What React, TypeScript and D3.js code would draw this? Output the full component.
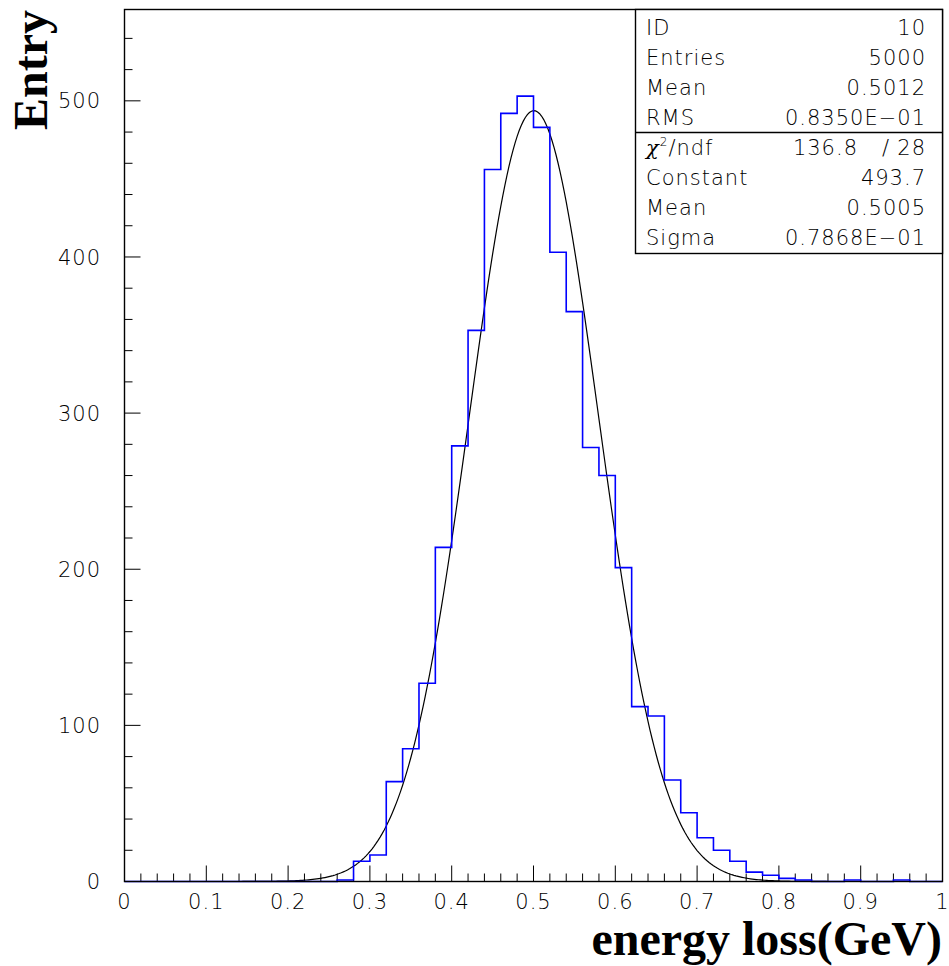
import React from 'react'
import * as d3 from 'd3'

// histogram: 50 bins of 0.02 GeV from 0 to 1
const binWidth = 0.02
const counts = [
  0, 0, 0, 0, 0, 0, 0, 0, 0, 0, 0, 0, 0,
  1, 13, 17, 64, 85, 127, 214, 279, 353, 456, 492, 503, 483, 403, 365, 278, 260,
  201, 112, 106, 65, 44, 28, 20, 13, 6, 4, 2, 1, 0, 0, 1, 0, 0, 1, 0, 0,
]

// gaussian fit result
const fitConstant = 493.7
const fitMean = 0.5005
const fitSigma = 0.07868

const xTickLabels = ['0', '0.1', '0.2', '0.3', '0.4', '0.5', '0.6', '0.7', '0.8', '0.9', '1']
const yTickLabels = [0, 100, 200, 300, 400, 500]

const statsRows = [
  ['ID', '10'],
  ['Entries', '5000'],
  ['Mean', '0.5012'],
  ['RMS', '0.8350E\u221201'],
]
const fitRows = [
  ['Constant', '493.7'],
  ['Mean', '0.5005'],
  ['Sigma', '0.7868E\u221201'],
]
const chi2 = '136.8'
const ndf = '28'

const W = 949
const H = 966
const frame = { left: 124.5, right: 942.5, top: 9.5, bottom: 881.5 }
const thin = '"DejaVu Sans", sans-serif'

export default function App() {
  const x = d3.scaleLinear().domain([0, 1]).range([frame.left, frame.right])
  const y = d3.scaleLinear().domain([0, 558.5]).range([frame.bottom, frame.top])

  const pts = counts.map((c, i) => [i * binWidth, c] as [number, number])
  pts.push([1, counts[counts.length - 1]])
  const histPath = d3.line<[number, number]>()
    .x((d) => x(d[0]))
    .y((d) => y(d[1]))
    .curve(d3.curveStepAfter)(pts)

  const gx = d3.range(0, 1.0001, 0.0025)
  const fitPath = d3.line<number>()
    .x((d) => x(d))
    .y((d) => y(fitConstant * Math.exp(-0.5 * ((d - fitMean) / fitSigma) ** 2)))(gx)

  const xMinor = d3.range(0, 51).map((i) => i * 0.02)
  const yMinor = d3.range(0, 28).map((i) => i * 20)

  const box = { left: 635.5, right: frame.right, top: frame.top, mid: 132.5, bottom: 253.5 }
  const rowPitch = 30.3
  const textSize = 21

  return (
    <svg width={W} height={H} style={{ position: 'absolute', left: 0, top: 0, background: '#fff' }}>
      {/* ticks */}
      <g stroke="#000" strokeWidth={1}>
        {xMinor.map((v, i) => (
          <line key={'xt' + i} x1={x(v)} x2={x(v)} y1={frame.bottom}
                y2={frame.bottom - (i % 5 === 0 ? 16 : 8)} />
        ))}
        {yMinor.map((v, i) => (
          <line key={'yt' + i} y1={y(v)} y2={y(v)} x1={frame.left}
                x2={frame.left + (i % 5 === 0 ? 16 : 8)} />
        ))}
      </g>
      {/* tick labels */}
      <g fontFamily={thin} fontWeight={200} fontSize={21} letterSpacing={1} fill="#000">
        {xTickLabels.map((t, i) => (
          <text key={'xl' + i} x={x(i / 10)} y={909} textAnchor="middle">{t}</text>
        ))}
        {yTickLabels.map((t) => (
          <text key={'yl' + t} x={101} y={y(t)} dy="0.36em" textAnchor="end">{t}</text>
        ))}
      </g>

      <path d={fitPath || ''} fill="none" stroke="#000" strokeWidth={1.2} />
      <path d={histPath || ''} fill="none" stroke="#0000ff" strokeWidth={1.6} />

      {/* frame */}
      <rect x={frame.left} y={frame.top} width={frame.right - frame.left}
            height={frame.bottom - frame.top} fill="none" stroke="#000" strokeWidth={1.4} />

      {/* stats box */}
      <rect x={box.left} y={box.top} width={box.right - box.left} height={box.bottom - box.top}
            fill="#fff" stroke="#000" strokeWidth={1.4} />
      <line x1={box.left} x2={box.right} y1={box.mid} y2={box.mid} stroke="#000" strokeWidth={1.4} />
      <g fontFamily={thin} fontWeight={200} fontSize={textSize} letterSpacing={1} fill="#000">
        {statsRows.map((r, i) => (
          <g key={'s' + i}>
            <text x={646} y={box.top + 25 + i * rowPitch}>{r[0]}</text>
            <text x={926} y={box.top + 25 + i * rowPitch} textAnchor="end">{r[1]}</text>
          </g>
        ))}
        <text x={646} y={box.mid + 22}>
          <tspan fontFamily='"DejaVu Serif", serif' fontStyle="italic">χ</tspan>
          <tspan fontSize={12} dy={-9}>2</tspan>
          <tspan dy={9}>/ndf</tspan>
        </text>
        <text x={858} y={box.mid + 22} textAnchor="end">{chi2}</text>
        <text x={886} y={box.mid + 22} textAnchor="middle">/</text>
        <text x={926} y={box.mid + 22} textAnchor="end">{ndf}</text>
        {fitRows.map((r, i) => (
          <g key={'f' + i}>
            <text x={646} y={box.mid + 22 + (i + 1) * rowPitch}>{r[0]}</text>
            <text x={926} y={box.mid + 22 + (i + 1) * rowPitch} textAnchor="end">{r[1]}</text>
          </g>
        ))}
      </g>

      {/* axis titles */}
      <text x={942} y={955} textAnchor="end" fontFamily='"Liberation Serif", "Times New Roman", serif'
            fontWeight="bold" fontSize={48}>energy loss(GeV)</text>
      <text transform="translate(47,10) rotate(-90)" textAnchor="end"
            fontFamily='"Liberation Serif", "Times New Roman", serif' fontWeight="bold"
            fontSize={48}>Entry</text>
    </svg>
  )
}
